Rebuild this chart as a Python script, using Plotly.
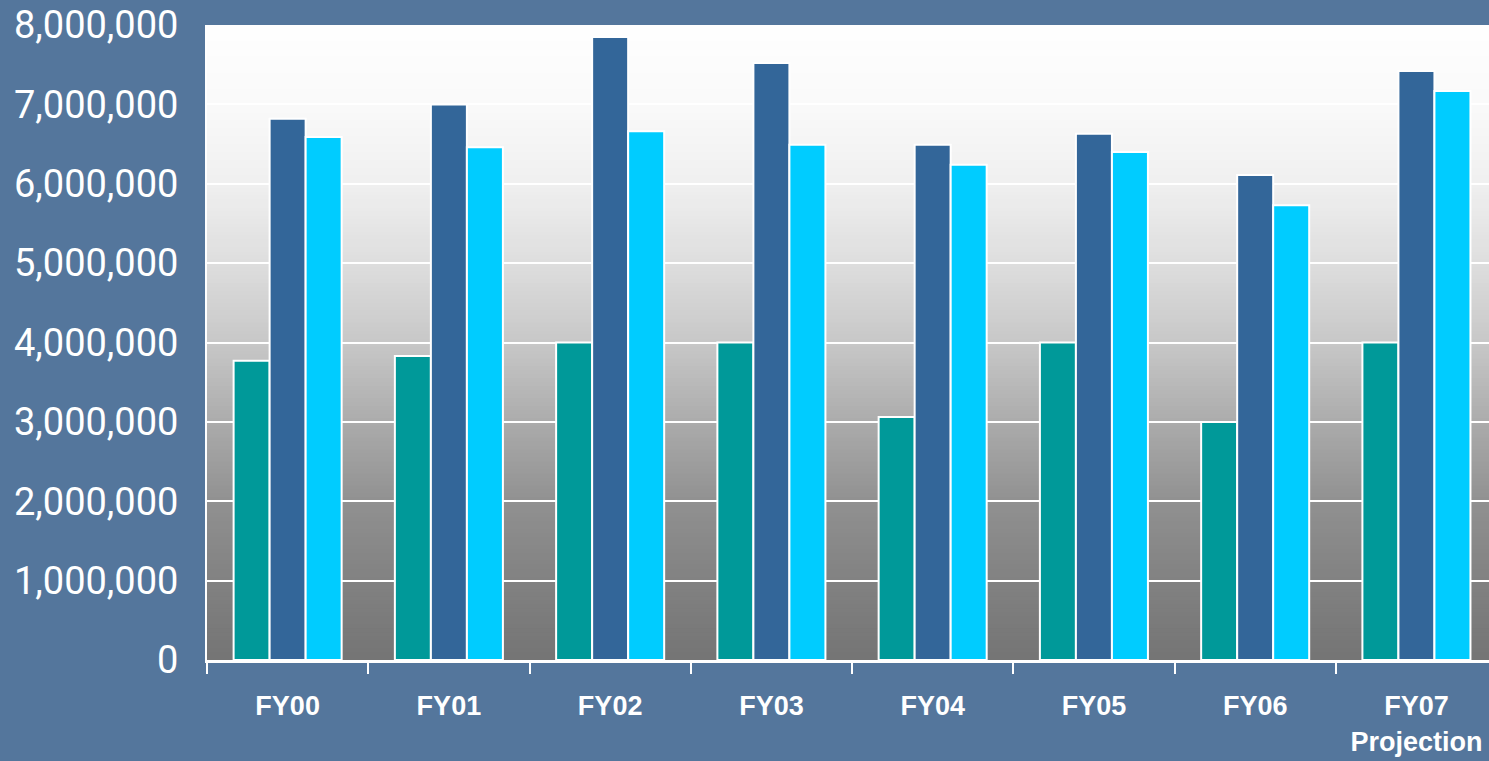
import plotly.graph_objects as go

# data
years = ['FY00', 'FY01', 'FY02', 'FY03', 'FY04', 'FY05', 'FY06', 'FY07<br>Projection']
series_a = [3770000, 3830000, 4000000, 4000000, 3060000, 4000000, 3000000, 4000000]
series_b = [6820000, 7000000, 7850000, 7520000, 6490000, 6630000, 6110000, 7420000]
series_c = [6590000, 6460000, 6660000, 6490000, 6240000, 6400000, 5730000, 7170000]

# plot-area background gradient (value in the y scale, grey level)
grad_stops = [(0, 117), (1e6, 130), (2e6, 145), (3e6, 172), (4e6, 200),
              (5e6, 222), (6e6, 240), (7e6, 250), (8e6, 255)]

def grey_at(v):
    for (v0, g0), (v1, g1) in zip(grad_stops[:-1], grad_stops[1:]):
        if v0 <= v <= v1:
            g = g0 + (g1 - g0) * (v - v0) / (v1 - v0)
            return f'rgb({int(g)},{int(g)},{int(g)})'
    return 'rgb(255,255,255)'

fig = go.Figure()
bar_line = dict(color='white', width=2)
fig.add_trace(go.Bar(x=years, y=series_a, marker=dict(color='#009999', line=bar_line)))
fig.add_trace(go.Bar(x=years, y=series_b, marker=dict(color='#336699', line=bar_line)))
fig.add_trace(go.Bar(x=years, y=series_c, marker=dict(color='#00CCFF', line=bar_line)))

# thin strips faking the grey gradient behind the bars
shapes = []
step = 50000
n = int(8e6 / step)
for i in range(n):
    lo = i * step
    shapes.append(dict(type='rect', xref='paper', yref='y', layer='below',
                       x0=0, x1=1, y0=lo, y1=min(lo + step * 1.5, 8e6),
                       fillcolor=grey_at(lo + step / 2), line=dict(width=0)))

fig.update_layout(
    width=1489, height=761,
    margin=dict(l=207, r=0, t=25, b=101),
    paper_bgcolor='#54769c',
    plot_bgcolor='rgba(0,0,0,0)',
    showlegend=False,
    barmode='group',
    bargap=0.33,
    bargroupgap=0,
    shapes=shapes,
    font=dict(family='Roboto, Liberation Sans, sans-serif', color='white'),
)
fig.update_xaxes(range=[-0.5, 7.45], tickson='boundaries', ticks='outside',
                 ticklen=11, tickwidth=2, tickcolor='white',
                 showline=True, linecolor='white', linewidth=3,
                 showgrid=False, ticklabelstandoff=20,
                 tickfont=dict(family='Liberation Sans, Arial, sans-serif',
                               size=27, weight='bold', color='white'))
fig.update_yaxes(range=[0, 8e6], dtick=1e6, tickformat=',d',
                 showgrid=True, gridcolor='white', gridwidth=2,
                 showline=True, linecolor='white', linewidth=2,
                 zeroline=False, ticks='', ticklabelstandoff=19,
                 tickfont=dict(family='Roboto, Liberation Sans, sans-serif',
                               size=38, color='white'))

fig.write_html("out.html", config={'displayModeBar': False},
               post_script="document.body.style.margin='0';")
